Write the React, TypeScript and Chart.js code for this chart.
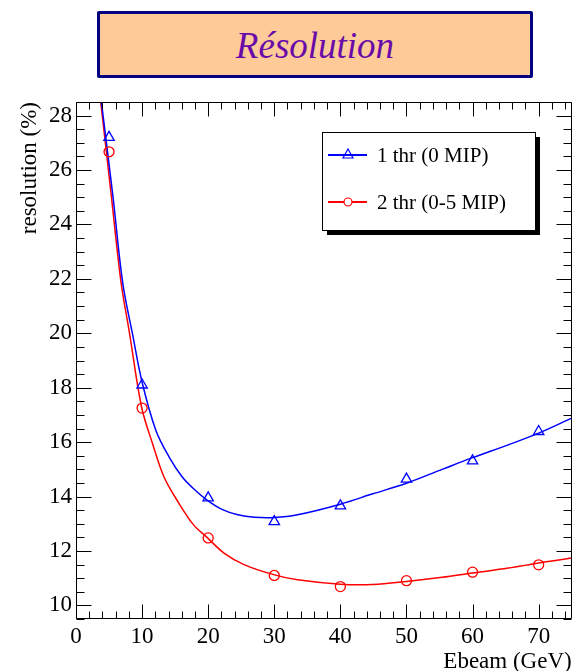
import React, { useEffect, useRef } from 'react';
import { Chart, registerables } from 'chart.js';

Chart.register(...registerables);

const FONT = "'Liberation Serif', 'Times New Roman', Times, serif";

// ---- data ----
const chartTitle = 'Résolution';
const xTitle = 'Ebeam (GeV)';
const yTitle = 'resolution (%)';
const seriesLabels = ['1 thr (0 MIP)', '2 thr (0-5 MIP)'];

const beamEnergy = [5, 10, 20, 30, 40, 50, 60, 70];
const res1thr = [27.2, 18.1, 13.95, 13.08, 13.66, 14.64, 15.31, 16.39];
const res2thr = [26.67, 17.25, 12.48, 11.1, 10.69, 10.91, 11.22, 11.49];

const fit1thrE = [3.84, 5.58, 7.07, 8.57, 10, 12.06, 14.05, 16.05, 18, 19.78, 22, 24.5, 27, 30, 33.5, 40, 44.9, 50, 55.4, 60, 65.4, 70, 75];
const fit1thrRes = [28.5, 25.05, 21.85, 19.95, 18.2, 16.45, 15.47, 14.73, 14.24, 13.88, 13.54, 13.33, 13.24, 13.23, 13.33, 13.72, 14.1, 14.49, 15.0, 15.43, 15.9, 16.33, 16.88];

const fit2thrE = [3.74, 5.33, 6.8, 8.1, 9.91, 11.56, 13.3, 15.55, 17.79, 19.78, 22.5, 25.5, 29.9, 33.5, 40, 44.9, 50, 55.4, 60, 65.4, 70, 75];
const fit2thrRes = [28.5, 25.08, 21.9, 20.0, 17.3, 15.96, 14.73, 13.76, 12.96, 12.51, 11.9, 11.49, 11.13, 10.94, 10.78, 10.77, 10.88, 11.03, 11.19, 11.37, 11.56, 11.74];

const xTicks = [0, 10, 20, 30, 40, 50, 60, 70];
const yTicks = [10, 12, 14, 16, 18, 20, 22, 24, 26, 28];
const xRange = [0, 75];
const yRange = [9.5, 28.5];

const BLUE = '#0000ff';
const RED = '#ff0000';

const toPts = (xs: number[], ys: number[]) => xs.map((x, i) => ({ x, y: ys[i] }));

const framePlugin = {
  id: 'rootFrame',
  afterDraw(chart: any) {
    const { ctx, chartArea: a, scales } = chart;
    const x = scales.x;
    const y = scales.y;
    const L = Math.round(a.left) + 0.5;
    const R = Math.round(a.right) - 0.5;
    const T = Math.round(a.top) + 0.5;
    const B = Math.round(a.bottom) - 0.5;
    ctx.save();
    ctx.strokeStyle = '#000';
    ctx.lineWidth = 1;
    ctx.beginPath();
    ctx.rect(L, T, R - L, B - T);
    // x ticks (bottom and top), every 2, major every 10
    for (let k = 0; k * 2 <= x.max; k++) {
      const v = k * 2;
      const px = Math.round(x.getPixelForValue(v)) + 0.5;
      const len = v % 10 === 0 ? 14 : 7;
      ctx.moveTo(px, B);
      ctx.lineTo(px, B - len);
      ctx.moveTo(px, T);
      ctx.lineTo(px, T + len);
    }
    // y ticks (left and right), every 0.5, major every 2
    for (let k = Math.ceil(y.min * 2); k <= Math.floor(y.max * 2); k++) {
      const v = k / 2;
      const py = Math.round(y.getPixelForValue(v)) + 0.5;
      const len = v % 2 === 0 ? 15 : 8;
      ctx.moveTo(L, py);
      ctx.lineTo(L + len, py);
      ctx.moveTo(R, py);
      ctx.lineTo(R - len, py);
    }
    ctx.stroke();

    // legend box with shadow
    const lx = 322, ly = 132, lw = 213, lh = 98;
    ctx.fillStyle = '#000';
    ctx.fillRect(lx + 5, ly + 5, lw, lh);
    ctx.fillStyle = '#fff';
    ctx.fillRect(lx, ly, lw, lh);
    ctx.strokeStyle = '#000';
    ctx.lineWidth = 1;
    ctx.strokeRect(lx + 0.5, ly + 0.5, lw, lh);

    const entries = [
      { label: seriesLabels[0], color: BLUE, style: 'triangle', yc: 155 },
      { label: seriesLabels[1], color: RED, style: 'circle', yc: 202 },
    ];
    ctx.font = `21px ${FONT}`;
    ctx.textBaseline = 'middle';
    ctx.textAlign = 'left';
    for (const e of entries) {
      ctx.strokeStyle = e.color;
      ctx.lineWidth = 2;
      ctx.beginPath();
      ctx.moveTo(328, e.yc);
      ctx.lineTo(367, e.yc);
      ctx.stroke();
      ctx.lineWidth = 1.2;
      ctx.beginPath();
      if (e.style === 'circle') {
        ctx.fillStyle = '#fff';
        ctx.arc(348, e.yc, 4, 0, Math.PI * 2);
        ctx.fill();
      } else {
        ctx.moveTo(348, e.yc - 6);
        ctx.lineTo(353, e.yc + 3);
        ctx.lineTo(343, e.yc + 3);
        ctx.closePath();
      }
      ctx.stroke();
      ctx.fillStyle = '#000';
      ctx.fillText(e.label, 377, e.yc + 1);
    }
    ctx.restore();
  },
};

export default function App() {
  const canvasRef = useRef<HTMLCanvasElement | null>(null);

  useEffect(() => {
    document.body.style.margin = '0';
    const canvas = canvasRef.current;
    if (!canvas) return;
    const chart = new Chart(canvas, {
      type: 'scatter',
      data: {
        datasets: [
          {
            label: seriesLabels[0],
            data: toPts(beamEnergy, res1thr),
            showLine: false,
            pointStyle: 'triangle',
            pointRadius: 6,
            pointBorderWidth: 1.3,
            borderColor: BLUE,
            backgroundColor: 'rgba(0,0,0,0)',
          },
          {
            label: seriesLabels[1],
            data: toPts(beamEnergy, res2thr),
            showLine: false,
            pointStyle: 'circle',
            pointRadius: 5,
            pointBorderWidth: 1.3,
            borderColor: RED,
            backgroundColor: 'rgba(0,0,0,0)',
          },
          {
            label: seriesLabels[0] + ' fit',
            data: toPts(fit1thrE, fit1thrRes),
            showLine: true,
            pointRadius: 0,
            borderColor: BLUE,
            borderWidth: 1.5,
            tension: 0.35,
          },
          {
            label: seriesLabels[1] + ' fit',
            data: toPts(fit2thrE, fit2thrRes),
            showLine: true,
            pointRadius: 0,
            borderColor: RED,
            borderWidth: 1.5,
            tension: 0.35,
          },
        ],
      },
      options: {
        animation: false,
        responsive: false,
        devicePixelRatio: 1,
        layout: { padding: { top: 102, right: 1, left: 0, bottom: 0 } },
        plugins: {
          legend: { display: false },
          tooltip: { enabled: false },
          title: { display: false },
        },
        scales: {
          x: {
            type: 'linear',
            min: xRange[0],
            max: xRange[1],
            afterBuildTicks: (s: any) => {
              s.ticks = xTicks.map((v) => ({ value: v }));
            },
            afterFit: (s: any) => {
              s.height = 52;
            },
            grid: { display: false, drawTicks: false },
            border: { display: false },
            ticks: {
              padding: 4,
              autoSkip: false,
              maxRotation: 0,
              color: '#000',
              font: { family: FONT, size: 23 },
            },
            title: {
              display: true,
              text: xTitle,
              align: 'end',
              color: '#000',
              padding: { top: 0, bottom: 0 },
              font: { family: FONT, size: 23, lineHeight: 0.8 },
            },
          },
          y: {
            type: 'linear',
            min: yRange[0],
            max: yRange[1],
            afterBuildTicks: (s: any) => {
              s.ticks = yTicks.map((v) => ({ value: v }));
            },
            afterFit: (s: any) => {
              s.width = 76;
            },
            grid: { display: false, drawTicks: false },
            border: { display: false },
            ticks: {
              padding: 4,
              autoSkip: false,
              color: '#000',
              font: { family: FONT, size: 23 },
            },
            title: {
              display: true,
              text: yTitle,
              align: 'end',
              color: '#000',
              padding: { top: 18, bottom: 0 },
              font: { family: FONT, size: 23, lineHeight: 1 },
            },
          },
        },
      },
      plugins: [framePlugin],
    } as any);
    return () => chart.destroy();
  }, []);

  return (
    <div style={{ position: 'relative', width: 579, height: 671, background: '#fff' }}>
      <canvas
        ref={canvasRef}
        width={579}
        height={671}
        style={{ position: 'absolute', left: 0, top: 0, width: 579, height: 671 }}
      />
      <div
        style={{
          position: 'absolute',
          left: 97,
          top: 11,
          width: 436,
          height: 67,
          boxSizing: 'border-box',
          border: '3.5px solid #000080',
          borderRadius: 2,
          background: '#fdca98',
          color: '#6a0aa8',
          fontFamily: FONT,
          fontStyle: 'italic',
          fontSize: 37,
          display: 'flex',
          alignItems: 'center',
          justifyContent: 'center',
          lineHeight: 1,
        }}
      >
        <span style={{ position: 'relative', top: 1 }}>{chartTitle}</span>
      </div>
    </div>
  );
}
